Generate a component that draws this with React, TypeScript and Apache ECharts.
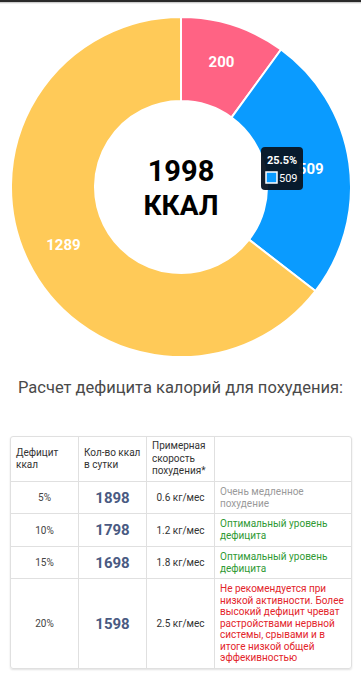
import React, { useEffect, useRef } from "react";
import * as echarts from "echarts";

const sliceNames = ["Дефицит", "Белки", "Остальное"];
const sliceValues = [200, 509, 1289];
const sliceColors = ["#FF6384", "#0A9BFF", "#FFCA58"];
const totalLabel = "1998";
const unitLabel = "ККАЛ";
const tooltipTitle = "25.5%";
const tooltipValue = "509";

const titleText = "Расчет дефицита калорий для похудения:";
const headers = ["Дефицит ккал", "Кол-во ккал в сутки", "Примерная скорость похудения*", ""];
const deficits = ["5%", "10%", "15%", "20%"];
const kcalPerDay = ["1898", "1798", "1698", "1598"];
const speeds = ["0.6 кг/мес", "1.2 кг/мес", "1.8 кг/мес", "2.5 кг/мес"];
const notes = [
  "Очень медленное похудение",
  "Оптимальный уровень дефицита",
  "Оптимальный уровень дефицита",
  "Не рекомендуется при низкой активности. Более высокий дефицит чреват растройствами нервной системы, срывами и в итоге низкой общей эффекивностью",
];
const noteColors = ["#9a9a9a", "#2f9a34", "#2f9a34", "#e3242b"];
const rowHeights = [32, 33, 32, 89];

const FONT = "Roboto, 'Noto Sans', sans-serif";

export default function App() {
  const ref = useRef<HTMLDivElement>(null);

  useEffect(() => {
    document.body.style.margin = "0";
    if (!ref.current) return;
    const chart = echarts.init(ref.current, null, { renderer: "svg" });
    const Z = 100;
    chart.setOption({
      animation: false,
      series: [
        {
          type: "pie",
          center: [181, 187],
          radius: [86, 170],
          startAngle: 90,
          clockwise: true,
          avoidLabelOverlap: false,
          itemStyle: { borderColor: "#ffffff", borderWidth: 2 },
          label: {
            show: true,
            position: "inside",
            color: "#ffffff",
            fontFamily: FONT,
            fontWeight: "bold",
            fontSize: 15,
            formatter: "{c}",
          },
          labelLine: { show: false },
          emphasis: { disabled: true },
          data: sliceValues.map((v, i) => ({
            name: sliceNames[i],
            value: v,
            itemStyle: { color: sliceColors[i] },
          })),
        },
      ],
      graphic: [
        {
          type: "text",
          x: 181,
          y: 171,
          style: {
            text: totalLabel,
            fontFamily: FONT,
            fontWeight: "bold",
            fontSize: 29,
            fill: "#000",
            align: "center",
            verticalAlign: "middle",
          },
        },
        {
          type: "text",
          x: 181,
          y: 205,
          style: {
            text: unitLabel,
            fontFamily: FONT,
            fontWeight: "bold",
            fontSize: 28,
            fill: "#000",
            align: "center",
            verticalAlign: "middle",
          },
        },
        {
          type: "rect",
          z: Z,
          zlevel: 1,
          shape: { x: 261, y: 147, width: 42, height: 43, r: 4 },
          style: { fill: "rgba(8,20,34,0.95)" },
        },
        {
          type: "text",
          z: Z + 1,
          zlevel: 1,
          x: 267,
          y: 160,
          style: {
            text: tooltipTitle,
            fontFamily: FONT,
            fontWeight: "bold",
            fontSize: 11,
            fill: "#fff",
            verticalAlign: "middle",
          },
        },
        {
          type: "rect",
          z: Z + 1,
          zlevel: 1,
          shape: { x: 266, y: 172, width: 11, height: 11 },
          style: { fill: sliceColors[1], stroke: "#fff", lineWidth: 1.5 },
        },
        {
          type: "text",
          z: Z + 1,
          zlevel: 1,
          x: 279,
          y: 178,
          style: {
            text: tooltipValue,
            fontFamily: FONT,
            fontSize: 11,
            fill: "#fff",
            verticalAlign: "middle",
          },
        },
      ],
    });
    return () => chart.dispose();
  }, []);

  const cellBase: React.CSSProperties = {
    borderRight: "1.5px solid #e0e0e0",
    borderBottom: "1.5px solid #e0e0e0",
    fontSize: 10,
    color: "#333",
    verticalAlign: "middle",
    boxSizing: "border-box",
  };

  return (
    <div
      style={{
        position: "absolute",
        left: 0,
        top: 0,
        width: 361,
        height: 680,
        background: "#fff",
        fontFamily: FONT,
        overflow: "hidden",
      }}
    >
      <div
        style={{
          position: "absolute",
          left: 0,
          top: 0,
          width: 361,
          height: 4,
          background: "linear-gradient(#2a2a2a 0px, #2a2a2a 1.5px, #bdbdbd 2px, #ffffff 4px)",
          zIndex: 5,
        }}
      />
      <div ref={ref} style={{ position: "absolute", left: 0, top: 0, width: 361, height: 370 }} />
      <div
        style={{
          position: "absolute",
          left: 0,
          top: 377,
          width: 361,
          textAlign: "center",
          fontSize: 16.5,
          color: "#4a4a4a",
          lineHeight: "22px",
        }}
      >
        {titleText}
      </div>
      <div
        style={{
          position: "absolute",
          left: 10,
          top: 436,
          width: 342,
          border: "1.5px solid #e0e0e0",
          borderRadius: 3,
          boxShadow: "0 1px 2px rgba(0,0,0,0.12)",
          overflow: "hidden",
          boxSizing: "border-box",
        }}
      >
        <table
          style={{
            borderCollapse: "separate",
            borderSpacing: 0,
            tableLayout: "fixed",
            width: "100%",
          }}
        >
          <colgroup>
            <col style={{ width: 68 }} />
            <col style={{ width: 68 }} />
            <col style={{ width: 68 }} />
            <col />
          </colgroup>
          <tbody>
            <tr style={{ height: 45 }}>
              {headers.map((h, i) => (
                <td
                  key={i}
                  style={{
                    ...cellBase,
                    borderRight: i === 3 ? "none" : cellBase.borderRight,
                    padding: "0 3px 0 5px",
                    lineHeight: "12.5px",
                    color: "#333",
                    textAlign: "left",
                  }}
                >
                  {h}
                </td>
              ))}
            </tr>
            {deficits.map((d, r) => {
              const last = r === deficits.length - 1;
              const bb = last ? "none" : cellBase.borderBottom;
              return (
                <tr key={r} style={{ height: rowHeights[r] }}>
                  <td style={{ ...cellBase, borderBottom: bb, textAlign: "center", color: "#444" }}>{d}</td>
                  <td
                    style={{
                      ...cellBase,
                      borderBottom: bb,
                      textAlign: "center",
                      fontSize: 15,
                      fontWeight: "bold",
                      color: "#4a5a82",
                    }}
                  >
                    {kcalPerDay[r]}
                  </td>
                  <td style={{ ...cellBase, borderBottom: bb, textAlign: "center", color: "#333" }}>{speeds[r]}</td>
                  <td
                    style={{
                      ...cellBase,
                      borderBottom: bb,
                      borderRight: "none",
                      padding: "0 3px 0 5px",
                      lineHeight: "11.6px",
                      color: noteColors[r],
                    }}
                  >
                    {notes[r]}
                  </td>
                </tr>
              );
            })}
          </tbody>
        </table>
      </div>
    </div>
  );
}
